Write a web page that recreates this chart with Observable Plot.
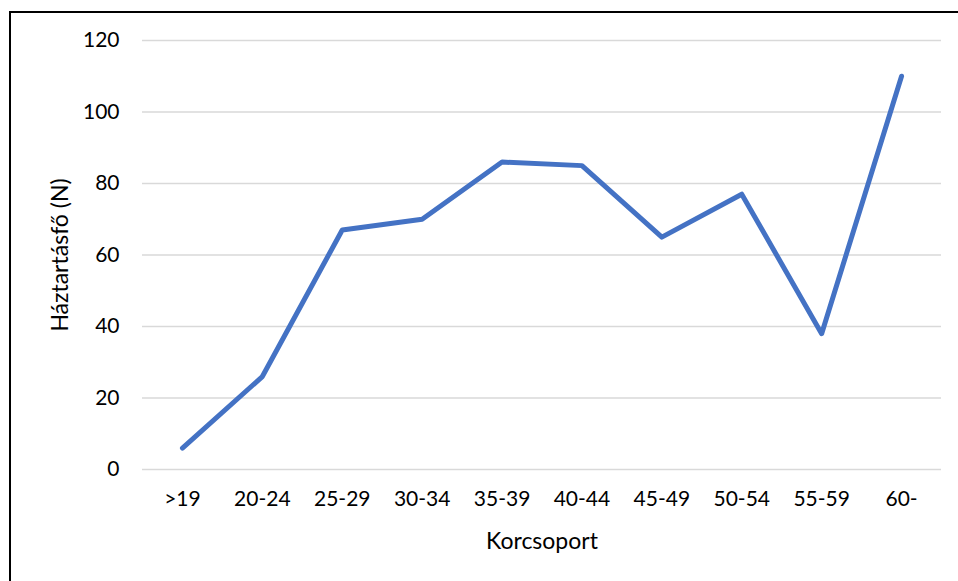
<!DOCTYPE html>
<html>
<head>
<meta charset="utf-8">
<script src="https://cdn.jsdelivr.net/npm/d3@7"></script>
<script src="https://cdn.jsdelivr.net/npm/@observablehq/plot@0.6"></script>
<style>
  html, body { margin: 0; padding: 0; background: #fff; }
  #wrap { position: relative; width: 958px; height: 581px; overflow: hidden; }
  #frame { position: absolute; left: 9px; top: 11px; width: 960px; height: 600px;
           border-left: 2px solid #000; border-top: 2px solid #000; pointer-events: none; }
</style>
</head>
<body>
<div id="wrap"><div id="frame"></div></div>
<script>
const categories = [">19", "20-24", "25-29", "30-34", "35-39", "40-44", "45-49", "50-54", "55-59", "60-"];
const values = [6, 26, 67, 70, 86, 85, 65, 77, 38, 110];
const yTicks = [0, 20, 40, 60, 80, 100, 120];

const data = categories.map((c, i) => ({cat: c, v: values[i]}));

const chart = Plot.plot({
  width: 958,
  height: 581,
  marginLeft: 142,
  marginRight: 17,
  marginTop: 40,
  marginBottom: 112,
  style: {fontFamily: "Lato, 'Open Sans', sans-serif", fontSize: "21px", color: "#000", background: "transparent"},
  x: {type: "point", domain: categories, padding: 0.5, round: false, label: null},
  y: {domain: [0, 120], ticks: yTicks, label: null},
  marks: [
    Plot.gridY(yTicks, {stroke: "#d9d9d9", strokeOpacity: 1, strokeWidth: 1.5}),
    Plot.axisY(yTicks, {tickSize: 0, tickPadding: 23, fontSize: 21, fill: "#000"}),
    Plot.axisX({tickSize: 0, tickPadding: 22, fontSize: 21, fill: "#000"}),
    Plot.line(data, {x: "cat", y: "v", stroke: "#4472C4", strokeWidth: 5, strokeLinejoin: "round", strokeLinecap: "round"}),
    Plot.text(["Korcsoport"], {frameAnchor: "bottom", textAnchor: "middle", lineAnchor: "middle", dy: 72, fontSize: 23, fill: "#000", text: d => d}),
    Plot.text(["Háztartásfő (N)"], {frameAnchor: "left", textAnchor: "middle", lineAnchor: "middle", dx: -82, rotate: -90, fontSize: 23, fill: "#000", text: d => d})
  ]
});
document.getElementById("wrap").insertBefore(chart, document.getElementById("frame"));
</script>
</body>
</html>
